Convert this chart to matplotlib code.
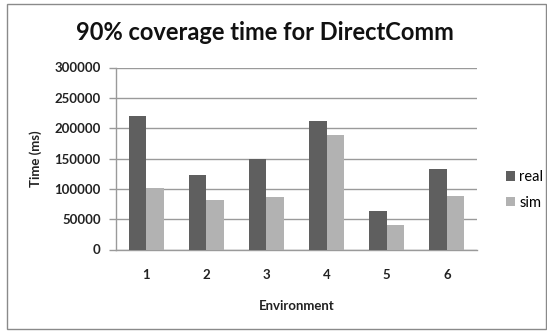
import matplotlib

matplotlib.use("Agg")
import matplotlib.pyplot as plt
import numpy as np
from matplotlib.patches import Rectangle

# 90% coverage times (ms) per environment
environments = ["1", "2", "3", "4", "5", "6"]
real_ms = [220000, 122000, 149000, 212000, 64000, 133000]
sim_ms = [101000, 81000, 86000, 188000, 40000, 88000]
y_ticks = [0, 50000, 100000, 150000, 200000, 250000, 300000]

DARK = "#5f5f5f"
LIGHT = "#b2b2b2"
GRID = "#9a9a9a"
INK = "#222222"

plt.rcParams["font.family"] = ["Lato", "DejaVu Sans"]

fig = plt.figure(figsize=(5.47, 3.31), dpi=100)
ax = fig.add_axes([116 / 547, 1 - 249.5 / 331, 361 / 547, 182 / 331])

x = np.arange(len(environments))
w = 0.29
ax.bar(x - w / 2, real_ms, w, color=DARK, label="real", zorder=3)
ax.bar(x + w / 2, sim_ms, w, color=LIGHT, label="sim", zorder=3)

ax.set_xlim(-0.5, len(environments) - 0.5)
ax.set_ylim(0, 300000)
ax.set_yticks(y_ticks)
ax.set_yticklabels([str(v) for v in y_ticks], fontsize=9.5, fontweight="bold", color=INK)
ax.set_xticks(x)
ax.set_xticklabels(environments, fontsize=9.5, fontweight="bold", color=INK)
ax.tick_params(axis="x", length=0, pad=14)
ax.tick_params(axis="y", length=5, width=1, color=GRID, pad=6)
ax.yaxis.grid(True, color=GRID, lw=1, zorder=0)
for side in ("top", "right"):
    ax.spines[side].set_visible(False)
for side in ("left", "bottom"):
    ax.spines[side].set_color(GRID)
    ax.spines[side].set_linewidth(1)

ax.set_xlabel("Environment", fontsize=9.5, fontweight="bold", color=INK, labelpad=14)
ax.set_ylabel("Time (ms)", fontsize=9.5, fontweight="bold", color=INK, labelpad=9)

fig.text(265 / 547, 1 - 33 / 331, "90% coverage time for DirectComm",
         ha="center", va="center", fontsize=17, fontweight="bold", color="#111111")

fig.legend(loc="center left", bbox_to_anchor=(499 / 547, 1 - 190 / 331), frameon=False,
           fontsize=10.5, handlelength=0.6, handleheight=0.6, handletextpad=0.3,
           labelspacing=0.8, borderpad=0)

# outer chart frame
fig.patches.append(Rectangle((7 / 547, 2 / 331), 539 / 547, 325 / 331,
                             transform=fig.transFigure, fill=False,
                             edgecolor="#8a8a8a", lw=1))

fig.savefig("out.png", dpi=100)
